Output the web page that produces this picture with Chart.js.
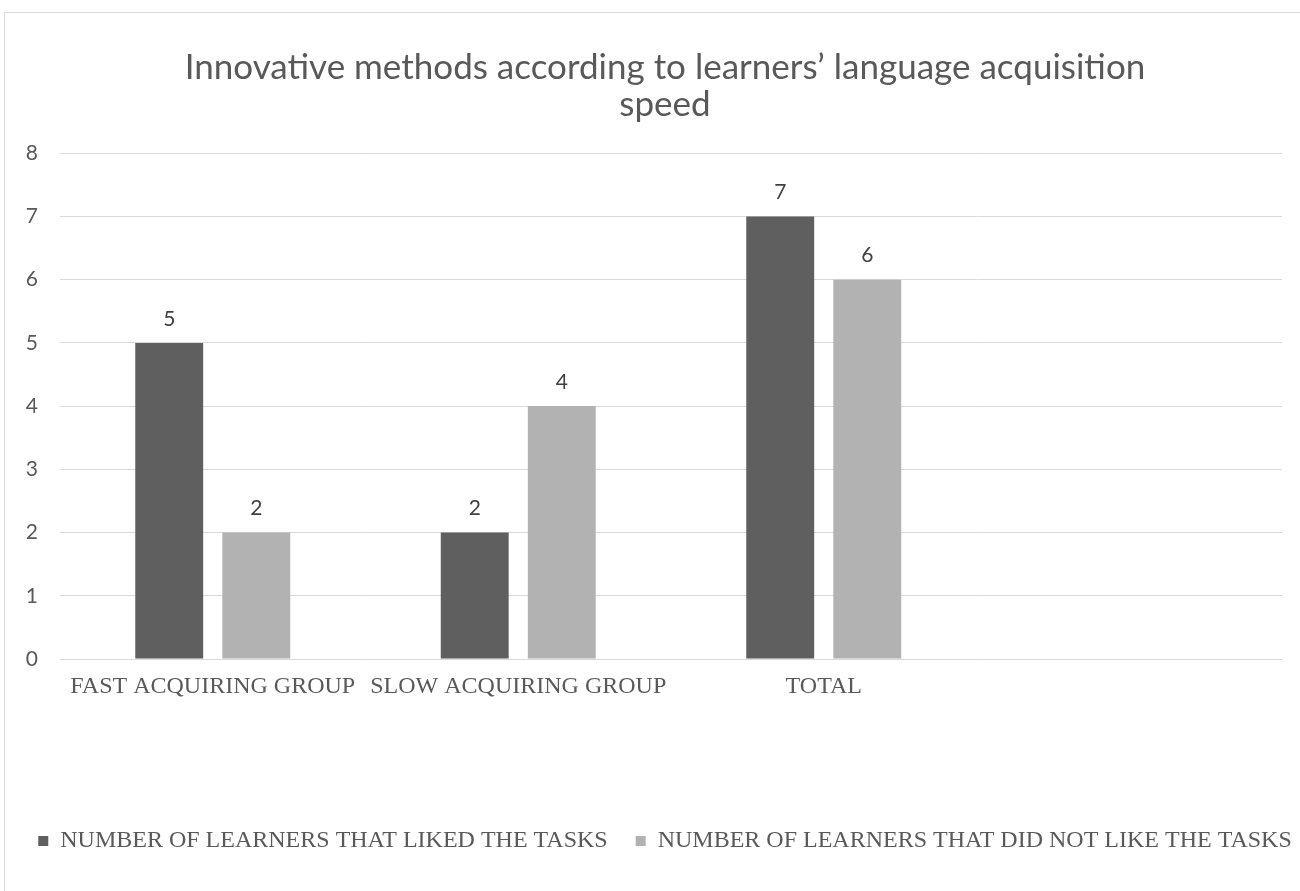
<!DOCTYPE html>
<html>
<head>
<meta charset="utf-8">
<title>Innovative methods</title>
<script src="https://cdn.jsdelivr.net/npm/chart.js@4.4.1/dist/chart.umd.min.js"></script>
<style>
  html, body { margin: 0; padding: 0; background: #fff; overflow: hidden; }
  #frame {
    position: absolute; left: 4px; top: 12px;
    width: 1400px; height: 1000px;
    border-left: 1px solid #d9d9d9; border-top: 1px solid #d9d9d9;
  }
  #mycanvas { position: absolute; left: 0; top: 0; }
</style>
</head>
<body>
<div id="frame"><canvas id="mycanvas" width="1320" height="880"></canvas></div>
<script>
var groups = ['FAST ACQUIRING GROUP', 'SLOW ACQUIRING GROUP', 'TOTAL', ''];
var liked = [5, 2, 7, null];
var notLiked = [2, 4, 6, null];
var yTicks = [0, 1, 2, 3, 4, 5, 6, 7, 8];

var titleLines = ['Innovative methods according to learners\u2019 language acquisition', 'speed'];

// numbers above each bar
var valueLabels = {
  id: 'valueLabels',
  afterDatasetsDraw: function(chart) {
    var ctx = chart.ctx;
    ctx.save();
    ctx.font = '21px Lato';
    ctx.fillStyle = '#404040';
    ctx.textAlign = 'center';
    ctx.textBaseline = 'middle';
    chart.data.datasets.forEach(function(ds, i) {
      chart.getDatasetMeta(i).data.forEach(function(bar, j) {
        var v = ds.data[j];
        if (v == null) return;
        ctx.fillText(v, bar.x, bar.y - 24);
      });
    });
    ctx.restore();
  }
};

var chartdata = {
  labels: groups,
  datasets: [
    {
      label: 'NUMBER OF LEARNERS THAT LIKED THE TASKS',
      backgroundColor: '#5f5f5f',
      data: liked
    },
    {
      label: 'NUMBER OF LEARNERS THAT DID NOT LIKE THE TASKS',
      backgroundColor: '#b2b2b2',
      data: notLiked
    }
  ]
};

var ctx = document.getElementById('mycanvas');

var myBarChart = new Chart(ctx, {
  type: 'bar',
  data: chartdata,
  plugins: [valueLabels],
  options: {
    responsive: false,
    animation: false,
    devicePixelRatio: 1,
    categoryPercentage: 0.57,
    barPercentage: 0.78,
    layout: { padding: { top: 8, left: 0, right: 0, bottom: 30 } },
    plugins: {
      title: {
        display: true,
        text: titleLines,
        color: '#595959',
        font: { family: 'Lato', size: 35, weight: 'normal', lineHeight: 1.06 },
        padding: { top: 28, bottom: 30 }
      },
      legend: {
        position: 'bottom',
        labels: {
          boxWidth: 10,
          boxHeight: 10,
          padding: 28,
          color: '#595959',
          font: { family: 'Liberation Serif', size: 24 }
        }
      },
      tooltip: { enabled: false }
    },
    scales: {
      x: {
        grid: { display: false },
        border: { display: false },
        ticks: {
          color: '#595959',
          padding: 5,
          maxRotation: 0,
          autoSkip: false,
          font: { family: 'Liberation Serif', size: 24 }
        },
        afterFit: function(scale) { scale.height = 142; }
      },
      y: {
        min: 0,
        max: 8,
        afterBuildTicks: function(scale) {
          scale.ticks = yTicks.map(function(v) { return { value: v }; });
        },
        afterFit: function(scale) { scale.width = 55; },
        grid: { color: '#d9d9d9', lineWidth: 1, drawTicks: false },
        border: { display: false },
        ticks: {
          color: '#595959',
          padding: 22,
          font: { family: 'Lato', size: 21 }
        }
      },
      // empty strip on the right of the plot
      yRight: {
        type: 'linear',
        position: 'right',
        grid: { display: false },
        border: { display: false },
        ticks: { display: false },
        afterFit: function(scale) { scale.width = 43; }
      }
    }
  }
});
</script>
</body>
</html>
